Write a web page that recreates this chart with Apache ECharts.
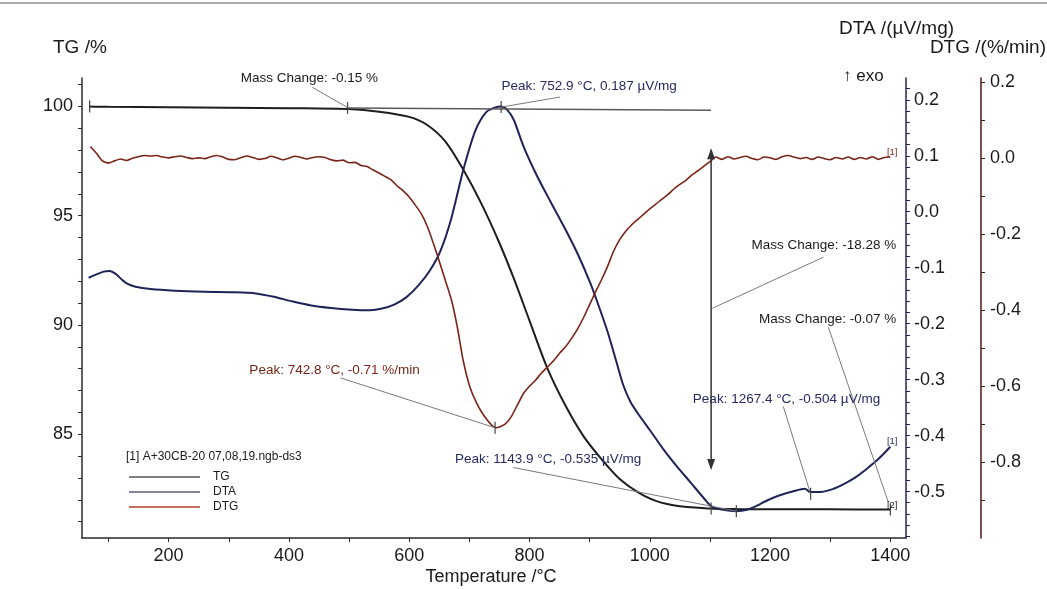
<!DOCTYPE html>
<html><head><meta charset="utf-8">
<script src="https://cdn.jsdelivr.net/npm/echarts@6/dist/echarts.min.js"></script>
<style>html,body{margin:0;padding:0;background:#fff}#c{width:1047px;height:589px}</style>
</head><body><div id="c"></div>
<script>
// ---------- data ----------
const tgTemp   = [68,100,200,300,400,500,550,600,630,660,690,720,750,775,800,830,860,890,920,950,980,1010,1050,1100,1150,1200,1300,1400];
const tgValues = [100.0,99.98,99.96,99.94,99.92,99.88,99.76,99.52,99.15,98.4,97.1,95.55,93.75,92.05,90.2,88.0,86.3,84.9,83.85,82.95,82.35,81.95,81.7,81.6,81.57,81.56,81.56,81.55];

const dtaTemp   = [67,80,92,102,112,122,132,145,170,210,260,310,345,375,405,435,470,505,535,555,575,595,615,635,652,670,690,710,728,742,753,763,774,790,813,835,857,880,901,915,930,945,956,968,980,1000,1023,1045,1068,1090,1102,1120,1144,1160,1175,1195,1215,1240,1258,1267,1280,1300,1320,1340,1360,1380,1400];
const dtaValues = [-0.118,-0.112,-0.107,-0.106,-0.111,-0.121,-0.129,-0.134,-0.138,-0.141,-0.143,-0.144,-0.146,-0.152,-0.160,-0.167,-0.172,-0.175,-0.176,-0.173,-0.166,-0.153,-0.132,-0.104,-0.070,-0.012,0.075,0.145,0.178,0.186,0.188,0.182,0.164,0.117,0.063,0.018,-0.026,-0.075,-0.127,-0.168,-0.215,-0.270,-0.310,-0.340,-0.360,-0.390,-0.425,-0.455,-0.484,-0.512,-0.526,-0.532,-0.535,-0.533,-0.527,-0.516,-0.507,-0.499,-0.495,-0.501,-0.501,-0.497,-0.488,-0.476,-0.460,-0.442,-0.420];

const dtgTemp   = [70,80,90,100,110,120,130,140,150,160,170,180,190,200,210,220,230,240,250,260,270,280,290,300,310,320,330,340,350,360,370,380,390,400,410,420,430,440,450,460,470,480,490,500,510,520,530,540,550,560,570,580,590,600,610,620,630,640,650,660,670,680,690,700,710,720,730,740,745,750,760,770,780,790,800,810,820,830,840,850,860,870,880,890,900,910,920,930,940,950,960,970,980,990,1000,1010,1020,1030,1040,1050,1060,1070,1080,1090,1100,1110,1120,1130,1140,1150,1160,1170,1180,1190,1200,1210,1220,1230,1240,1250,1260,1270,1280,1290,1300,1310,1320,1330,1340,1350,1360,1370,1380,1390,1400];
const dtgValues = [0.030,0.012,-0.008,-0.014,-0.008,-0.003,-0.007,-0.001,0.003,0.006,0.005,0.006,0.002,0.000,0.003,0.005,0.001,-0.002,0.000,-0.002,0.003,0.006,0.002,-0.004,-0.005,0.000,0.005,0.001,-0.004,-0.002,0.004,0.000,-0.005,-0.001,0.004,0.001,-0.003,0.001,0.003,0.001,-0.005,-0.008,-0.006,-0.013,-0.012,-0.020,-0.023,-0.032,-0.040,-0.049,-0.058,-0.074,-0.087,-0.103,-0.124,-0.147,-0.180,-0.224,-0.272,-0.322,-0.372,-0.445,-0.535,-0.598,-0.638,-0.668,-0.690,-0.707,-0.710,-0.708,-0.700,-0.680,-0.650,-0.620,-0.601,-0.585,-0.566,-0.550,-0.534,-0.514,-0.497,-0.475,-0.450,-0.420,-0.386,-0.352,-0.320,-0.285,-0.245,-0.215,-0.193,-0.176,-0.162,-0.148,-0.134,-0.122,-0.109,-0.097,-0.082,-0.070,-0.059,-0.045,-0.034,-0.022,-0.010,0.002,-0.004,0.003,-0.003,0.001,0.004,-0.002,-0.005,0.002,0.000,-0.004,0.003,0.006,0.002,-0.002,0.001,-0.004,0.002,-0.002,-0.005,0.001,-0.003,0.002,-0.004,0.001,-0.003,0.003,-0.004,0.001,0.002];

const xTickValues   = [100,200,300,400,500,600,700,800,900,1000,1100,1200,1300,1400];
const xLabelValues  = [200,400,600,800,1000,1200,1400];
const tgTickValues  = [81,82,83,84,85,86,87,88,89,90,91,92,93,94,95,96,97,98,99,100,101];
const tgLabelValues = [85,90,95,100];
const dtaTickValues = [-0.58,-0.56,-0.54,-0.52,-0.5,-0.48,-0.46,-0.44,-0.42,-0.4,-0.38,-0.36,-0.34,-0.32,-0.3,-0.28,-0.26,-0.24,-0.22,-0.2,-0.18,-0.16,-0.14,-0.12,-0.1,-0.08,-0.06,-0.04,-0.02,0,0.02,0.04,0.06,0.08,0.1,0.12,0.14,0.16,0.18,0.2,0.22];
const dtaLabelValues = [-0.5,-0.4,-0.3,-0.2,-0.1,0,0.1,0.2];
const dtgTickValues  = [-0.9,-0.8,-0.7,-0.6,-0.5,-0.4,-0.3,-0.2,-0.1,0,0.1,0.2];
const dtgLabelValues = [-0.8,-0.6,-0.4,-0.2,0,0.2];

// annotations (data coordinates; axis = yAxis index)
const notes = [
  {text:'Mass Change: -0.15 %', axis:0, kind:'tg', at:[434,101.28], align:'center', from:[439,100.87], to:[497.5,99.95]},
  {text:'Peak: 752.9 °C, 0.187 µV/mg', axis:1, kind:'dta', at:[753.4,0.225], align:'left', from:[752.9,0.187], to:[851,0.205]},
  {text:'Peak: 742.8 °C, -0.71 %/min', axis:2, kind:'dtg', at:[476,-0.558], align:'center', from:[486,-0.579], to:[742.8,-0.71]},
  {text:'Peak: 1143.9 °C, -0.535 µV/mg', axis:1, kind:'dta', at:[831,-0.443], align:'center', from:[773,-0.457], to:[1143.9,-0.535]},
  {text:'Mass Change: -18.28 %', axis:0, kind:'tg', at:[1410,93.64], align:'right', from:[1288.6,93.10], to:[1104,90.76]},
  {text:'Mass Change: -0.07 %', axis:0, kind:'tg', at:[1410,90.26], align:'right', from:[1297,89.89], to:[1396.6,81.89]},
  {text:'Peak: 1267.4 °C, -0.504 µV/mg', axis:1, kind:'dta', at:[1383,-0.336], align:'right', from:[1222,-0.348], to:[1267.4,-0.504]}
];
const markers = [[0,[68.7,100.0]],[0,[497.5,99.93]],[1,[752.9,0.187]],[2,[742.8,-0.71]],[0,[1102,81.6]],[1,[1143.9,-0.535]],[1,[1267.4,-0.504]],[0,[1400,81.55]]];
const tags = [{text:'[1]',axis:2,kind:'dtg',at:[1403,0.014]},{text:'[1]',axis:1,kind:'dta',at:[1403,-0.41]},{text:'[2]',axis:0,kind:'tg',at:[1403,81.75]}];
const baseline = [[497.5,99.93],[1102,99.82]];
const stepArrow = [[1102,97.99],[1102,83.45]];

// ---------- chart ----------
const FONT = '"Liberation Sans", Arial, Helvetica, sans-serif';
const COL = {tg:'#1e1e1e', dta:'#1f2358', dtg:'#7a2418', dtgAxis:'#4a1818'};
const zip = (a,b) => a.map((t,i)=>[t,b[i]]);
const chart = echarts.init(document.getElementById('c'));

const lbl = (vals, fmt, extra) => Object.assign({customValues:vals, fontSize:18, color:'#1a1a1a', fontFamily:FONT, formatter:fmt}, extra||{});
const option = {
  animation:false,
  backgroundColor:'#ffffff',
  grid:{left:82, right:141, top:78, bottom:51},
  xAxis:{type:'value', min:56, max:1426,
    axisLine:{show:true, onZero:false, lineStyle:{color:'#2a2a2a', width:1.5}},
    axisTick:{show:true, customValues:xTickValues, length:4, lineStyle:{color:'#2a2a2a'}},
    axisLabel:lbl(xLabelValues, v=>String(Math.round(v)), {margin:9}),
    splitLine:{show:false}},
  yAxis:[
    {type:'value', position:'left', min:80.25, max:101.3,
      axisLine:{show:true, onZero:false, lineStyle:{color:'#2a2a2a', width:1.5}},
      axisTick:{show:true, customValues:tgTickValues, length:4, lineStyle:{color:'#2a2a2a'}},
      axisLabel:lbl(tgLabelValues, v=>String(Math.round(v)), {margin:9}),
      splitLine:{show:false}},
    {type:'value', position:'right', min:-0.583, max:0.239,
      axisLine:{show:true, onZero:false, lineStyle:{color:COL.dta, width:1.5}},
      axisTick:{show:true, customValues:dtaTickValues, length:4, lineStyle:{color:COL.dta}},
      axisLabel:lbl(dtaLabelValues, v=>v.toFixed(1), {margin:8}),
      splitLine:{show:false}},
    {type:'value', position:'right', offset:75, min:-1.0, max:0.21,
      axisLine:{show:true, onZero:false, lineStyle:{color:COL.dtgAxis, width:1.5}},
      axisTick:{show:true, customValues:dtgTickValues, length:4, lineStyle:{color:COL.dtgAxis}},
      axisLabel:lbl(dtgLabelValues, v=>v.toFixed(1), {margin:9}),
      splitLine:{show:false}}
  ],
  legend:{left:124, top:465, orient:'vertical', icon:'rect', itemWidth:71, itemHeight:1.5, itemGap:1,
    selectedMode:false, data:['TG','DTA','DTG'],
    textStyle:{fontSize:12, fontFamily:FONT, color:'#1a1a1a', lineHeight:14, padding:[0,0,0,8]}},
  series:[
    {name:'TG', type:'line', yAxisIndex:0, data:zip(tgTemp,tgValues), showSymbol:false, smooth:0.3, silent:true,
      lineStyle:{color:COL.tg, width:2}, itemStyle:{color:'#555'}},
    {name:'DTA', type:'line', yAxisIndex:1, data:zip(dtaTemp,dtaValues), showSymbol:false, smooth:0.25, silent:true,
      lineStyle:{color:COL.dta, width:2}, itemStyle:{color:'#5a5a78'}},
    {name:'DTG', type:'line', yAxisIndex:2, data:zip(dtgTemp,dtgValues), showSymbol:false, smooth:0.2, silent:true,
      lineStyle:{color:COL.dtg, width:1.6}, itemStyle:{color:'#b0402c'}}
  ]
};
chart.setOption(option);

// ---------- annotations ----------
const P = (axis, pt) => chart.convertToPixel({xAxisIndex:0, yAxisIndex:axis}, pt);
const txtCol = {tg:'#1a1a1a', dta:'#262a62', dtg:'#7a2418'};
const g = [];
const line = (a,b,stroke,w,z) => ({type:'line', silent:true, z:z||40, shape:{x1:a[0],y1:a[1],x2:b[0],y2:b[1]}, style:{stroke:stroke, lineWidth:w}});
const text = (s,x,y,opt) => ({type:'text', silent:true, z:60, x:x, y:y, style:Object.assign({text:s, fill:'#1a1a1a', fontSize:13.5, fontFamily:FONT, align:'left', verticalAlign:'middle'}, opt||{})});

g.push(line([0,3],[1047,3],'#8c8c8c',1.5));
// axis titles
g.push(text('TG /%', 53, 48, {fontSize:19}));
g.push(text('DTA /(µV/mg)', 839, 29, {fontSize:19}));
g.push(text('DTG /(%/min)', 1046, 48, {fontSize:19, align:'right'}));
g.push(text('↑ exo', 843, 76, {fontSize:17}));
g.push(text('Temperature /°C', 491, 577, {fontSize:18, align:'center'}));
g.push(text('[1] A+30CB-20 07,08,19.ngb-ds3', 126, 457, {fontSize:12}));

// baseline & step arrow
const b0 = P(0, baseline[0]), b1 = P(0, baseline[1]);
g.push(line(b0, b1, '#5a5a5a', 1.5));
const a0 = P(0, stepArrow[0]), a1 = P(0, stepArrow[1]);
g.push(line(a0, a1, '#333', 1.5));
g.push({type:'polygon', silent:true, z:41, shape:{points:[[a0[0],a0[1]-2],[a0[0]-4,a0[1]+9],[a0[0]+4,a0[1]+9]]}, style:{fill:'#333'}});
g.push({type:'polygon', silent:true, z:41, shape:{points:[[a1[0],a1[1]+2],[a1[0]-4,a1[1]-9],[a1[0]+4,a1[1]-9]]}, style:{fill:'#333'}});

notes.forEach(n => {
  const f = P(n.axis, n.from), t = P(n.axis, n.to), p = P(n.axis, n.at);
  g.push(line(f, t, '#7a7a7a', 1));
  g.push(text(n.text, p[0], p[1], {align:n.align, fill:txtCol[n.kind]}));
});
markers.forEach(m => {
  const p = P(m[0], m[1]);
  g.push(line([p[0], p[1]-6], [p[0], p[1]+6], '#444', 1.2, 45));
});
tags.forEach(tg => {
  const p = P(tg.axis, tg.at);
  g.push(text(tg.text, p[0], p[1], {fontSize:9.5, align:'center', fill:txtCol[tg.kind]}));
});
chart.setOption({graphic:g});
</script>
</body></html>
